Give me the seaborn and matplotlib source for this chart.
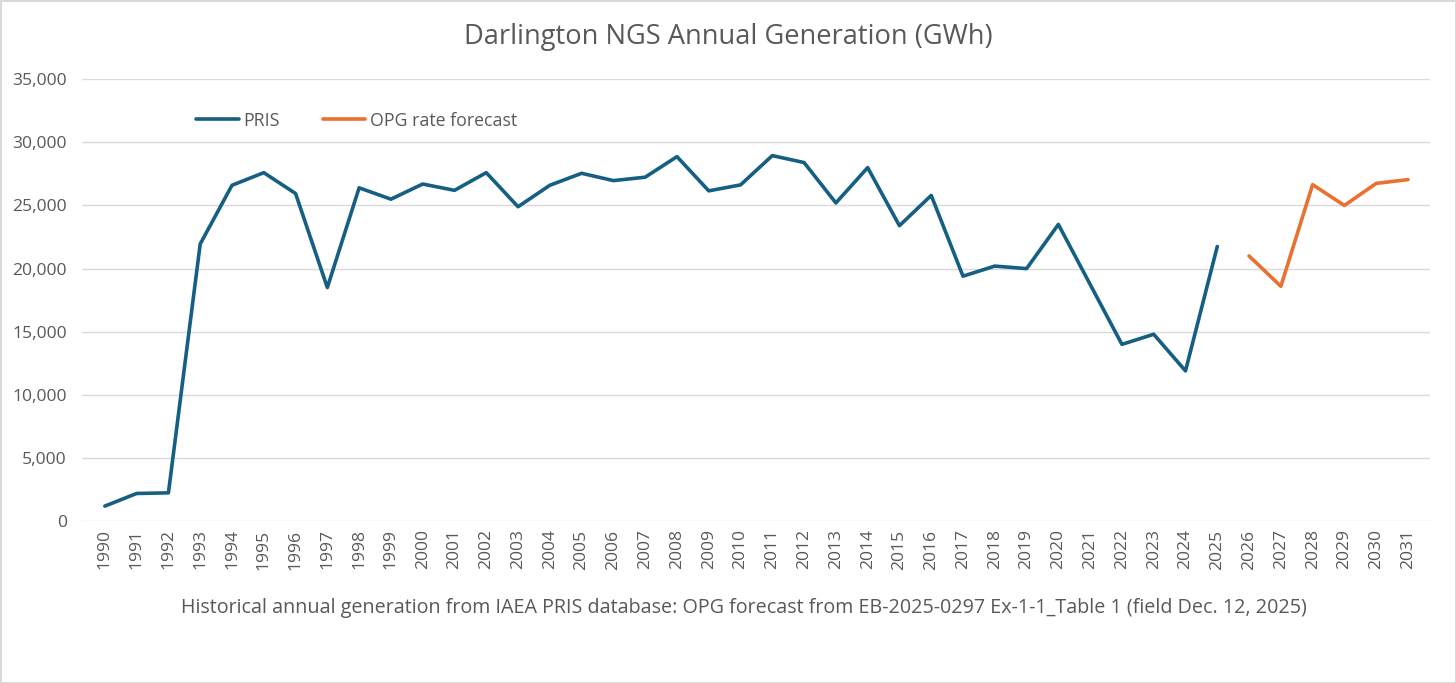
import pandas as pd
import matplotlib.pyplot as plt
import seaborn as sns

# Annual generation (GWh)
anos_pris = list(range(1990, 2026))
geracao_pris = [1190, 2190, 2240, 21950, 26600, 27600, 25950, 18500, 26400, 25500,
                26700, 26200, 27600, 24900, 26600, 27550, 26970, 27240, 28870, 26160,
                26630, 28950, 28400, 25200, 28000, 23400, 25800, 19400, 20200, 20000,
                23500, 18750, 14000, 14800, 11900, 21750]

anos_opg = list(range(2026, 2032))
geracao_opg = [21000, 18600, 26650, 25000, 26750, 27050]

rotulos = ['PRIS', 'OPG rate forecast']
cores = {'PRIS': '#156082', 'OPG rate forecast': '#E97132'}

titulo = 'Darlington NGS Annual Generation (GWh)'
rodape = ('Historical annual generation from IAEA PRIS database: OPG forecast from '
          'EB-2025-0297 Ex-1-1_Table 1 (field Dec. 12, 2025)')

# Long-form table for seaborn
dados = pd.concat([
    pd.DataFrame({'ano': anos_pris, 'gwh': geracao_pris, 'serie': rotulos[0]}),
    pd.DataFrame({'ano': anos_opg, 'gwh': geracao_opg, 'serie': rotulos[1]}),
])

sns.set_style('white')
plt.rcParams['font.family'] = ['Open Sans', 'DejaVu Sans']
texto_cor = '#595959'

fig = plt.figure(figsize=(14.56, 6.83), dpi=100, edgecolor='#d9d9d9', linewidth=2)
ax = fig.add_axes([0.0563, 0.237, 0.926, 0.647])

sns.lineplot(data=dados, x='ano', y='gwh', hue='serie', palette=cores,
             linewidth=2.6, ax=ax, legend=True)

ax.set_xlim(1989.28, 2031.7)
ax.set_ylim(0, 35000)
ax.set_yticks(range(0, 35001, 5000))
ax.set_yticklabels([f'{v:,}' for v in range(0, 35001, 5000)])
ax.set_xticks(range(1990, 2032))
ax.set_xticklabels([str(a) for a in range(1990, 2032)], rotation=90)
ax.tick_params(axis='both', labelsize=12.6, colors=texto_cor, length=0)
ax.tick_params(axis='y', pad=11)
ax.tick_params(axis='x', pad=6)
ax.yaxis.grid(True, color='#d9d9d9', linewidth=1)
ax.set_xlabel('')
ax.set_ylabel('')
for lado in ax.spines.values():
    lado.set_visible(False)

# Legend inside plot area, no frame
ax.legend(loc='upper left', bbox_to_anchor=(0.073, 0.963), ncol=2, frameon=False,
          fontsize=12.8, labelcolor=texto_cor, handlelength=2.4, handletextpad=0.25,
          columnspacing=2.4, title=None)

fig.text(0.5, 0.946, titulo, ha='center', va='center', fontsize=19.6, color=texto_cor)
fig.text(0.511, 0.110, rodape, ha='center', va='center', fontsize=14.2, color=texto_cor)

fig.savefig('out.png', dpi=100)
